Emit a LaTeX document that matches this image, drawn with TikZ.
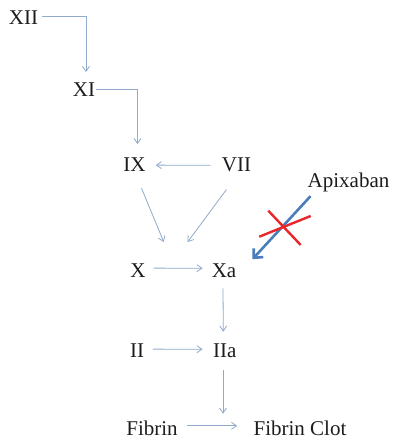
\documentclass[tikz,border=0pt]{standalone}
\usepackage{fontspec}
\setmainfont{Liberation Serif}
\usetikzlibrary{arrows.meta,calc}
\definecolor{txt}{HTML}{1C1C1C}
\definecolor{arrc}{HTML}{8FAACB}
\definecolor{apixc}{HTML}{4A7EBB}
\definecolor{blockc}{HTML}{E8262B}
\tikzset{
  lbl/.style={inner sep=0pt, anchor=base, text=txt, font=\fontsize{21}{24}\selectfont},
  arr/.style={draw=arrc, line width=0.8pt, -{Straight Barb[length=5pt,width=7pt]}},
  apix/.style={draw=apixc, line width=2.6pt, -{Straight Barb[length=7pt,width=13pt]}},
  block/.style={draw=blockc, line width=2.4pt}
}
\begin{document}
\begin{tikzpicture}[x=1pt,y=-1pt]
\useasboundingbox (0,0) rectangle (393,443);
\node[lbl] (XII) at (23.5,25) {XII};
\node[lbl] (XI) at (84,97) {XI};
\node[lbl] (IX) at (134.5,172) {IX};
\node[lbl] (VII) at (236.5,172) {VII};
\node[lbl] (Apix) at (348.5,188) {Apixaban};
\node[lbl] (X) at (138,277) {X};
\node[lbl] (Xa) at (224,277) {Xa};
\node[lbl] (II) at (137,357) {II};
\node[lbl] (IIa) at (224.7,357) {IIa};
\node[lbl] (Fib) at (152,435) {Fibrin};
\node[lbl] (Clot) at (300,435) {Fibrin Clot};
% cascade
\draw[arr] ($(XII.east)+(4,-2)$) -| ($(XI.north)+(2,-11)$);
\draw[arr] ($(XI.east)+(1,-1)$) -| ($(IX.north)+(3,-14)$);
\draw[arr] ($(VII.west)+(-11,0)$) -- ($(IX.east)+(10,0)$);
\draw[arr] ($(IX.south)+(7,16)$) -- ($(X.north east)+(18,-21)$);
\draw[arr] ($(VII.south)+(-10,17)$) -- ($(Xa.north west)+(-24,-21)$);
\draw[arr] ($(X.east)+(8,-2)$) -- ($(Xa.west)+(-9,-2)$);
\draw[arr] ($(Xa.south)+(-1,11)$) -- ($(IIa.north)+(-1.4,-11.4)$);
\draw[arr] ($(II.east)+(8.7,-1)$) -- ($(IIa.west)+(-10.3,-1)$);
\coordinate (fc) at ($(IIa.south)+(-1.7,56.3)$);
\draw[arr] ($(IIa.south)+(-1.7,13)$) -- (fc);
\draw[arr] ($(Fib.east)+(9.6,-2)$) -- ($(Clot.west)+(-16.3,-2)$);
% apixaban inhibition
\coordinate (as) at ($(Apix.south)+(-38,3.5)$);
\coordinate (ae) at ($(Xa.east)+(16,-11)$);
\draw[apix] (as) -- (ae);
\coordinate (blk) at (284.5,227);
\draw[block] ($(blk)+(-25.2,9.7)$) -- ($(blk)+(26.2,-11)$);
\draw[block] ($(blk)+(-16.2,-16.3)$) -- ($(blk)+(16.2,18)$);
\end{tikzpicture}
\end{document}
